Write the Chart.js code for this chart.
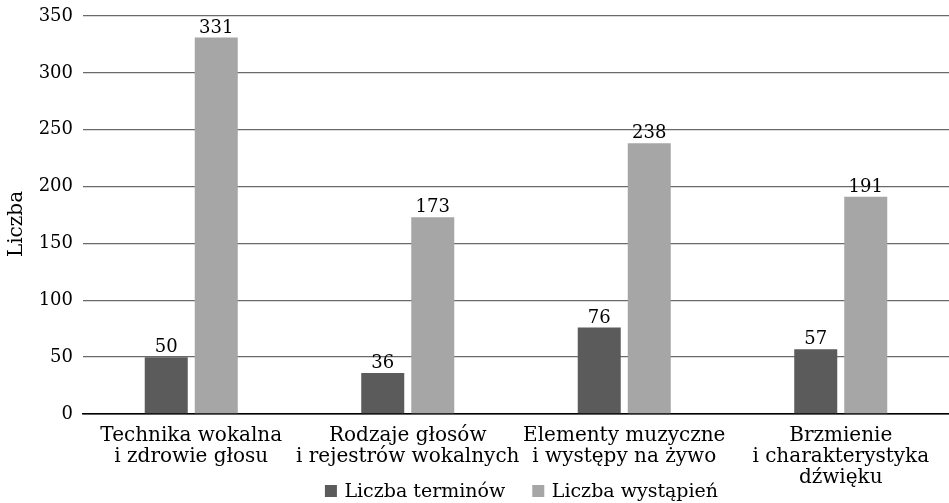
<!DOCTYPE html>
<html>
<head>
<meta charset="utf-8">
<script src="https://cdn.jsdelivr.net/npm/chart.js@4.4.1/dist/chart.umd.min.js"></script>
<style>
  html, body { margin: 0; padding: 0; background: #ffffff; }
  #wrap { width: 949px; height: 503px; position: relative; }
</style>
</head>
<body>
<div id="wrap"><canvas id="c" width="949" height="503"></canvas></div>
<script>
const categories = [
  ['Technika wokalna', 'i zdrowie głosu'],
  ['Rodzaje głosów', 'i rejestrów wokalnych'],
  ['Elementy muzyczne', 'i występy na żywo'],
  ['Brzmienie', 'i charakterystyka', 'dźwięku']
];
const seriesNames = ['Liczba terminów', 'Liczba wystąpień'];
const terminy = [50, 36, 76, 57];
const wystapienia = [331, 173, 238, 191];
const yTicks = [0, 50, 100, 150, 200, 250, 300, 350];
const yTitle = 'Liczba';
const colors = ['#5b5b5b', '#a6a6a6'];

const FONT = "'DejaVu Serif', serif";

const valueLabels = {
  id: 'valueLabels',
  afterDatasetsDraw(chart) {
    const ctx = chart.ctx;
    ctx.save();
    ctx.font = '18px ' + FONT;
    ctx.fillStyle = '#000';
    ctx.textAlign = 'center';
    ctx.textBaseline = 'alphabetic';
    chart.data.datasets.forEach((ds, i) => {
      const meta = chart.getDatasetMeta(i);
      meta.data.forEach((el, j) => {
        ctx.fillText(String(ds.data[j]), el.x, el.y - 5);
      });
    });
    ctx.restore();
  }
};

const yTitlePlugin = {
  id: 'yTitlePlugin',
  afterDraw(chart) {
    const ctx = chart.ctx;
    ctx.save();
    ctx.font = '20px ' + FONT;
    ctx.fillStyle = '#000';
    ctx.textAlign = 'center';
    ctx.textBaseline = 'middle';
    ctx.translate(17, 224);
    ctx.rotate(-Math.PI / 2);
    ctx.fillText(yTitle, 0, 0);
    ctx.restore();
  }
};

const bottomLegend = {
  id: 'bottomLegend',
  afterDraw(chart) {
    const ctx = chart.ctx;
    ctx.save();
    ctx.font = '19px ' + FONT;
    ctx.textBaseline = 'alphabetic';
    ctx.textAlign = 'left';
    const box = 12, gap = 7.5, spacing = 27;
    const ds = chart.data.datasets;
    const widths = ds.map(d => ctx.measureText(d.label).width);
    let total = 0;
    widths.forEach((w, i) => { total += box + gap + w + (i < widths.length - 1 ? spacing : 0); });
    let x = 521.5 - total / 2;
    const baseline = 496.5;
    ds.forEach((d, i) => {
      ctx.fillStyle = d.backgroundColor;
      ctx.fillRect(x, 485, box, box);
      ctx.fillStyle = '#000';
      ctx.fillText(d.label, x + box + gap, baseline);
      x += box + gap + widths[i] + spacing;
    });
    ctx.restore();
  }
};

new Chart(document.getElementById('c'), {
  type: 'bar',
  data: {
    labels: categories,
    datasets: [
      { label: seriesNames[0], data: terminy, backgroundColor: colors[0], borderWidth: 0 },
      { label: seriesNames[1], data: wystapienia, backgroundColor: colors[1], borderWidth: 0 }
    ]
  },
  options: {
    responsive: false,
    animation: false,
    devicePixelRatio: 1,
    categoryPercentage: 0.462,
    barPercentage: 0.86,
    layout: { padding: { top: 16, right: 0, left: 4, bottom: 0 } },
    plugins: {
      legend: { display: false },
      tooltip: { enabled: false }
    },
    scales: {
      x: {
        grid: { display: false, drawTicks: false },
        border: { display: true, color: '#000', width: 1.5 },
        ticks: {
          color: '#000',
          padding: 11,
          maxRotation: 0,
          autoSkip: false,
          font: { family: FONT, size: 20, lineHeight: 1.05 }
        },
        afterFit(scale) { scale.height = 89; }
      },
      y: {
        min: 0,
        max: 350,
        afterBuildTicks(scale) { scale.ticks = yTicks.map(v => ({ value: v })); },
        grid: {
          drawTicks: false,
          color: (c) => c.tick && c.tick.value === 0 ? '#000' : '#6a6a6a',
          lineWidth: 1.3
        },
        border: { display: false },
        ticks: {
          color: '#000',
          padding: 10,
          font: { family: FONT, size: 18 }
        },
        afterFit(scale) { scale.width = 79; scale.paddingTop = 0; scale.paddingBottom = 0; }
      }
    }
  },
  plugins: [valueLabels, yTitlePlugin, bottomLegend]
});
</script>
</body>
</html>
